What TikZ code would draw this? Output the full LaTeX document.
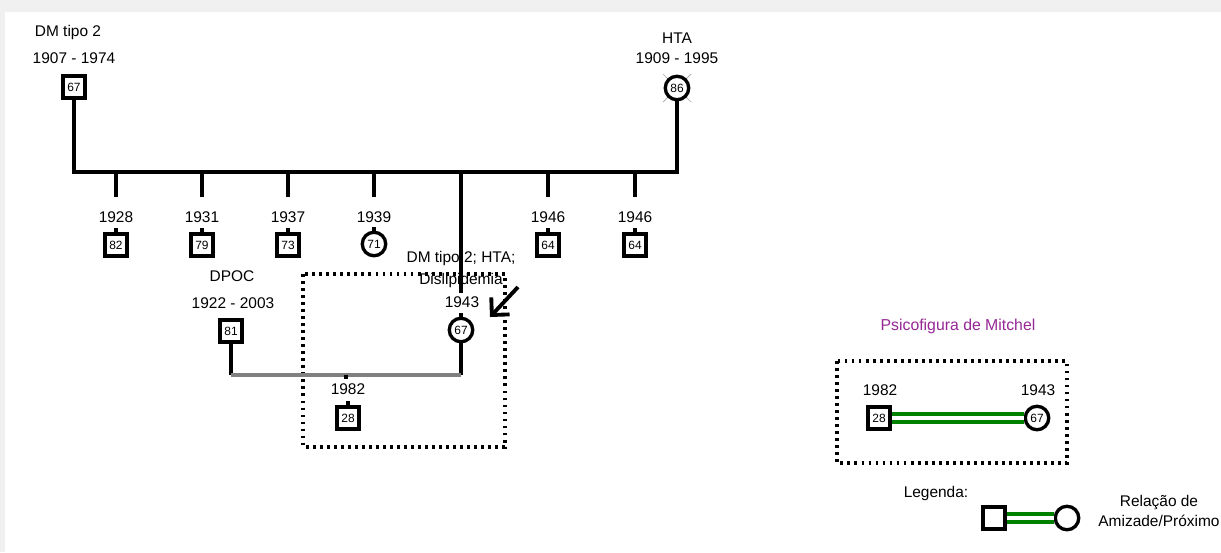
\documentclass[tikz,border=0pt]{standalone}
\usepackage{fontspec}
\setmainfont{Liberation Sans}
\usetikzlibrary{arrows.meta}
\definecolor{verde}{RGB}{0,128,0}
\definecolor{roxo}{RGB}{150,40,150}
\definecolor{cinza}{RGB}{128,128,128}
\tikzset{
  m/.style={draw,fill=white,line width=1.9pt,minimum size=0.44cm,inner sep=0pt,font=\fontsize{6.8}{7}\selectfont},
  f/.style={m,circle,minimum size=0.47cm},
  t/.style={inner sep=0pt,font=\fontsize{8.8}{11}\selectfont},
  ln/.style={line width=2.4pt},
  pt/.style={line width=2.2pt,dash pattern=on 1.6pt off 2.4pt},
  ami/.style={draw=verde,double=white,double distance=2.8pt,line width=2pt},
  seta/.style={line width=2.2pt,-{Straight Barb[length=2.5mm,width=5mm]}},
}
\begin{document}
\begin{tikzpicture}[x=0.02cm,y=-0.02cm]
\useasboundingbox (0,0) rectangle (1221,552);
\fill[black!6] (0,0) rectangle (1221,552);
\fill[white] (5,12) rectangle (1221,552);
% pais
\node[m] (pai) at (74,87){67}; \node[t] (dpai) at (68,32){DM tipo 2}; \node[t] (apai) at (74,58){1907 - 1974};
\draw[black!35,thin] (663,74) -- (691,102) (691,74) -- (663,102);
\node[f] (mae) at (677,88){86}; \node[t] (dmae) at (677,38){HTA}; \node[t] (amae) at (677,58){1909 - 1995};
\coordinate (ip) at (74,172); \coordinate (im) at (677,172);
\draw[ln] (pai) -- (ip) -- (im) -- (mae);
% filhos
\node[m] (f1) at (116,245){82}; \node[t] (a1) at (116,217){1928};
\node[m] (f2) at (202,245){79}; \node[t] (a2) at (202,217){1931};
\node[m] (f3) at (288,245){73}; \node[t] (a3) at (288,217){1937};
\node[f] (f4) at (374,244){71}; \node[t] (a4) at (374,217){1939};
\node[m] (f6) at (548,245){64}; \node[t] (a6) at (548,217){1946};
\node[m] (f7) at (635,245){64}; \node[t] (a7) at (635,217){1946};
\coordinate (s1) at (116,172); \coordinate (e1) at (116,197);
\coordinate (s2) at (202,172); \coordinate (e2) at (202,197);
\coordinate (s3) at (288,172); \coordinate (e3) at (288,197);
\coordinate (s4) at (374,172); \coordinate (e4) at (374,197);
\coordinate (s5) at (461,172); \coordinate (e5) at (461,293);
\coordinate (s6) at (548,172); \coordinate (e6) at (548,197);
\coordinate (s7) at (635,172); \coordinate (e7) at (635,197);
\draw[ln] (s1)--(e1) (s2)--(e2) (s3)--(e3) (s4)--(e4) (s5)--(e5) (s6)--(e6) (s7)--(e7);
\draw[ln] (f1.north)--++(0,-4) (f2.north)--++(0,-4) (f3.north)--++(0,-4) (f4.north)--++(0,-4)
  (f6.north)--++(0,-4) (f7.north)--++(0,-4);
% casal e filho
\draw[pt] (303,274) rectangle (505,447);
\node[m] (dpoc) at (231,331){81}; \node[t] (ddpoc) at (232,276){DPOC}; \node[t] (adpoc) at (233,303){1922 - 2003};
\node[f] (ind) at (461,330){67}; \node[t] (aind) at (462,302){1943};
\node[t] (dind) at (461,258){DM tipo 2; HTA;}; \node[t] (dind2) at (461,280){Dislipidemia};
\draw[ln] (ind.north)--++(0,-4);
\coordinate (ca) at (231,375); \coordinate (cb) at (461,375);
\draw[ln] (dpoc) -- (ca); \draw[ln] (ind) -- (cb);
\draw[cinza,line width=2.2pt] (ca) -- (cb);
\coordinate (cf) at (346,375);
\draw[ln] (cf) -- ++(0,4);
\node[m] (neto) at (348,418){28}; \node[t] (aneto) at (348,389){1982};
\draw[ln] (neto.north)--++(0,-4);
\coordinate (sa) at (518,287); \coordinate (sb) at (490,317);
\draw[seta] (sa) -- (sb);
% psicofigura
\node[t,text=roxo,font=\fontsize{9}{10}\selectfont] (tit) at (958,326){Psicofigura de Mitchel};
\draw[pt] (837,361) rectangle (1067,463);
\node[m] (p1) at (879,418){28}; \node[f] (p2) at (1037,418){67};
\node[t] (ap1) at (880,390){1982}; \node[t] (ap2) at (1038,390){1943};
\draw[ami] (p1) -- (p2);
% legenda
\node[t] (leg) at (936,493){Legenda:};
\node[m] (l1) at (994,518){}; \node[f] (l2) at (1067,518){};
\draw[ami] (l1) -- (l2);
\node[t,align=center] (ltx) at (1159,511){Relação de\\Amizade/Próximo};
\end{tikzpicture}
\end{document}
